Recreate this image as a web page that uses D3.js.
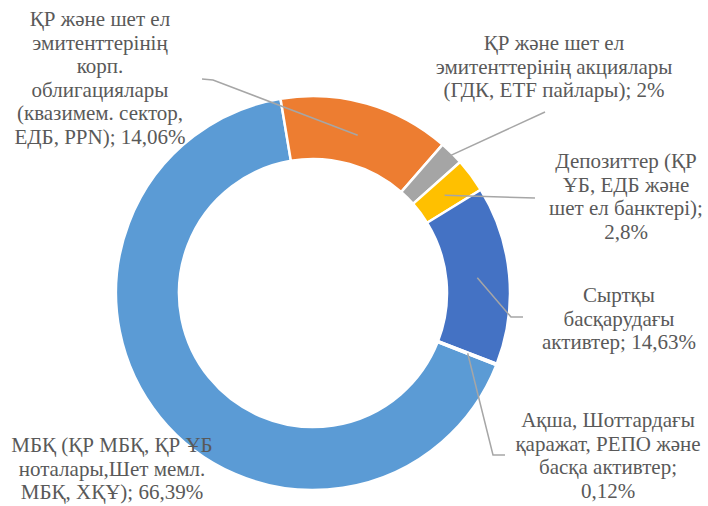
<!DOCTYPE html>
<html>
<head>
<meta charset="utf-8">
<script src="https://cdn.jsdelivr.net/npm/d3@7"></script>
<style>
  body { margin: 0; background: #fff; }
</style>
</head>
<body>
<script>
// Portfolio structure
var names = [
	"МБҚ (ҚР МБҚ, ҚР ҰБ ноталары,Шет мемл. МБҚ, ХҚҰ)",
	"ҚР және шет ел эмитенттерінің корп. облигациялары (квазимем. сектор, ЕДБ, PPN)",
	"ҚР және шет ел эмитенттерінің акциялары (ГДК, ETF пайлары)",
	"Депозиттер (ҚР ҰБ, ЕДБ және шет ел банктері)",
	"Сыртқы басқарудағы активтер",
	"Ақша, Шоттардағы қаражат, РЕПО және басқа активтер"
];
var values = [66.39, 14.06, 2, 2.8, 14.63, 0.12];
var valueLabels = ["66,39%", "14,06%", "2%", "2,8%", "14,63%", "0,12%"];

// label lines as they are wrapped in the picture
var labelLines = [
	["МБҚ (ҚР МБҚ, ҚР ҰБ", "ноталары,Шет мемл.", "МБҚ, ХҚҰ); 66,39%"],
	["ҚР және шет ел", "эмитенттерінің", "корп.", "облигациялары", "(квазимем. сектор,", "ЕДБ, PPN); 14,06%"],
	["ҚР және шет ел", "эмитенттерінің акциялары", "(ГДК, ETF пайлары); 2%"],
	["Депозиттер (ҚР", "ҰБ, ЕДБ және", "шет ел банктері);", "2,8%"],
	["Сыртқы", "басқарудағы", "активтер; 14,63%"],
	["Ақша, Шоттардағы", "қаражат, РЕПО және", "басқа активтер;", "0,12%"]
];

var colors = ["#5B9BD5", "#ED7D31", "#A5A5A5", "#FFC000", "#4472C4", "#70AD47"];

var width = 708, height = 506;
var cx = 313, cy = 293;
var outerR = 197, innerR = 134;
var startDeg = 111.5;

// label layout: text centre x, first baseline y, leader line anchor radius, elbow & end
var labelLayout = [
	{x: 112, y: 452},
	{x: 100, y: 26, r: 164, elbow: [213, 80], end: [202, 79]},
	{x: 554, y: 50, r: 192, elbow: null, end: [545, 112]},
	{x: 626, y: 168, r: 164, elbow: null, end: [535, 198]},
	{x: 619, y: 302, r: 165, elbow: [511, 317], end: [523, 317]},
	{x: 608, y: 427, r: 166, elbow: [493, 455], end: [505, 455]}
];
var lineH = 23.5;

var svg = d3.select("body").append("svg")
	.attr("width", width)
	.attr("height", height)
	.attr("font-family", "Times New Roman");

var pie = d3.pie()
	.sort(null)
	.value(function(d) { return d; })
	.startAngle(startDeg * Math.PI / 180)
	.endAngle(startDeg * Math.PI / 180 + 2 * Math.PI);

var arcs = pie(values);

var arc = d3.arc()
	.innerRadius(innerR)
	.outerRadius(outerR);

var g = svg.append("g")
	.attr("transform", "translate(" + cx + "," + cy + ")");

g.selectAll("path.slice")
	.data(arcs)
	.enter()
	.append("path")
	.attr("class", "slice")
	.attr("d", arc)
	.attr("fill", function(d, i) { return colors[i]; })
	.attr("stroke", "#fff")
	.attr("stroke-width", 2.5);

// leader lines
arcs.forEach(function(d, i) {
	var L = labelLayout[i];
	if (!L.end) return;
	var mid = (d.startAngle + d.endAngle) / 2;
	var sx = cx + L.r * Math.sin(mid),
		sy = cy - L.r * Math.cos(mid);
	var pts = [[sx, sy]];
	if (L.elbow) pts.push(L.elbow);
	pts.push(L.end);
	svg.append("path")
		.attr("d", d3.line()(pts))
		.attr("fill", "none")
		.attr("stroke", "#A6A6A6")
		.attr("stroke-width", 1.5);
});

// labels, one text element per line
labelLines.forEach(function(lines, i) {
	var L = labelLayout[i];
	lines.forEach(function(s, k) {
		svg.append("text")
			.attr("x", L.x)
			.attr("y", L.y + k * lineH)
			.attr("text-anchor", "middle")
			.style("font-family", "'Times New Roman'")
			.style("font-size", "21px")
			.attr("fill", "#595959")
			.text(s);
	});
});
</script>
</body>
</html>
